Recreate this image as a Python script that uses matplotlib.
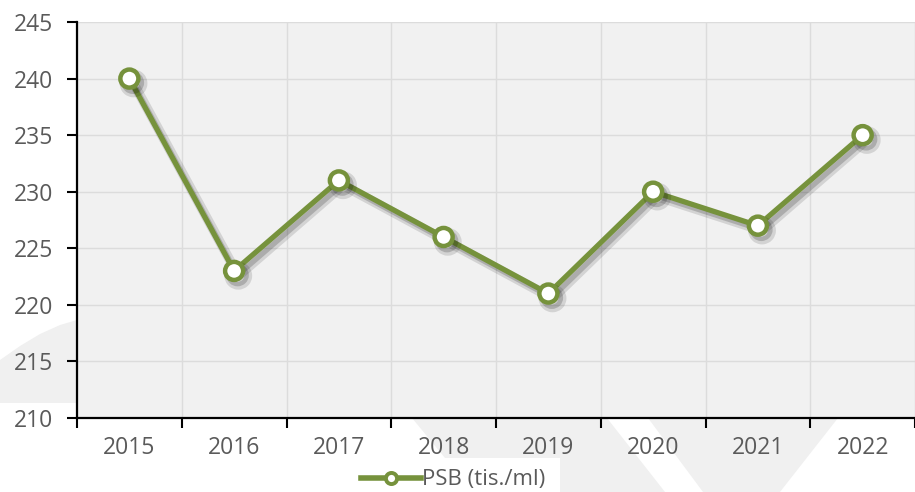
import matplotlib
matplotlib.use("Agg")
import matplotlib.pyplot as plt
import matplotlib.patheffects as pe
from matplotlib.patches import Polygon, Rectangle

years = ["2015", "2016", "2017", "2018", "2019", "2020", "2021", "2022"]
psb = [240, 223, 231, 226, 221, 230, 227, 235]
series_label = "PSB (tis./ml)"
y_ticks = [210, 215, 220, 225, 230, 235, 240, 245]

W, H = 915, 492
GREEN = "#76923c"
TXT = "#5a5a5a"
BG = "#f1f1f1"

plt.rcParams['font.family'] = ['Open Sans', 'DejaVu Sans']

fig = plt.figure(figsize=(W / 100, H / 100), dpi=100)
fig.patch.set_facecolor("white")

def px(points):
    return [(x / W, 1 - y / H) for x, y in points]

# background watermark shapes (figure pixel coords)
shapes = [
    [(0, 360), (20, 346), (40, 334), (60, 325), (77, 320), (77, 403), (0, 403)],
    [(412, 418), (607, 418), (665, 492), (473, 492)],
    [(648, 418), (838, 418), (780, 492), (703, 492)],
]
for s in shapes:
    fig.patches.append(Polygon(px(s), closed=True, transform=fig.transFigure,
                               facecolor="#f0f0f0", edgecolor="none", zorder=-10))
# legend white box
fig.patches.append(Rectangle((340 / W, 0), (560 - 340) / W, (492 - 458) / H,
                             transform=fig.transFigure, facecolor="white",
                             edgecolor="none", zorder=-5))

ax = fig.add_axes([77 / W, 1 - 418 / H, (W - 77) / W, (418 - 22) / H])
ax.set_zorder(1)
ax.set_facecolor(BG)

x = list(range(len(years)))
shadow = [pe.SimpleLineShadow(offset=(3, -3.5), shadow_color="black", alpha=0.12, linewidth=7),
          pe.SimpleLineShadow(offset=(2.5, -3), shadow_color="black", alpha=0.18),
          pe.Normal()]
ax.plot(x, psb, color=GREEN, linewidth=3.8, marker="o", markersize=13,
        markerfacecolor="white", markeredgecolor=GREEN, markeredgewidth=3.2,
        path_effects=shadow, zorder=5, solid_joinstyle="round",
        label=series_label, clip_on=False)

ax.set_xlim(-0.5, len(years) - 0.5)
ax.set_ylim(y_ticks[0], y_ticks[-1])
ax.set_yticks(y_ticks)

bounds = [i - 0.5 for i in range(len(years) + 1)]
ax.set_xticks(bounds)
ax.set_xticklabels([])
ax.set_xticks(x, minor=True)
ax.set_xticklabels(years, minor=True)
ax.tick_params(axis="x", which="minor", length=0, pad=13, labelsize=16.5, labelcolor=TXT)
ax.tick_params(axis="x", which="major", length=7, width=1.5, color="black")
ax.tick_params(axis="y", length=7, width=1.5, color="black", pad=10,
               labelsize=16.5, labelcolor=TXT)

ax.grid(True, which="major", color="#dcdcdc", linewidth=1)
ax.set_axisbelow(True)
for s in ["top", "right"]:
    ax.spines[s].set_visible(False)
for s in ["left", "bottom"]:
    ax.spines[s].set_linewidth(1.6)
    ax.spines[s].set_color("black")
    ax.spines[s].set_zorder(6)

leg = fig.legend(loc="center", bbox_to_anchor=(453 / W, 1 - 480 / H),
                 frameon=False, fontsize=16, handlelength=2.7, handletextpad=0.05,
                 borderpad=0, labelcolor=TXT)
for h in leg.legend_handles:
    h.set_markersize(8)
    h.set_markeredgewidth(2.8)
    h.set_linewidth(4)
    h.set_path_effects([])

fig.savefig("out.png", dpi=100, facecolor="white")
